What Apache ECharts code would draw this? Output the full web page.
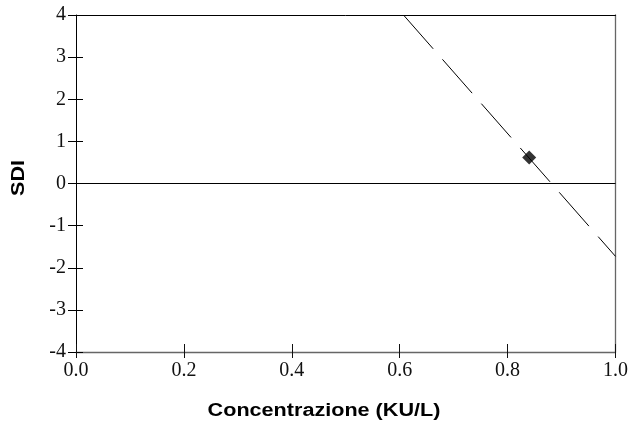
<!DOCTYPE html>
<html><head><meta charset="utf-8">
<script src="https://cdn.jsdelivr.net/npm/echarts@6/dist/echarts.min.js"></script>
<style>html,body{margin:0;padding:0;background:#fff}#c{width:631px;height:424px}</style>
</head><body><div id="c"></div>
<script>
const xTicks = [0.0, 0.2, 0.4, 0.6, 0.8, 1.0];
const yTicks = [-4, -3, -2, -1, 0, 1, 2, 3, 4];
const fitX = [0.607, 1.0];
const fitY = [4, -1.73];
const pointX = [0.84];
const pointY = [0.62];
const zeroX = [0, 1];
const zeroY = [0, 0];

const chart = echarts.init(document.getElementById('c'), null, {renderer: 'canvas'});
const serif = '"Liberation Serif", "Times New Roman", serif';
const sans = '"Liberation Sans", Arial, sans-serif';
const zip = (a, b) => a.map((v, i) => [v, b[i]]);

chart.setOption({
  animation: false,
  grid: {left: 76, top: 15, right: 15, bottom: 72, containLabel: false},
  xAxis: [{
    type: 'value', min: xTicks[0], max: xTicks[xTicks.length - 1], interval: 0.2, position: 'bottom',
    axisLine: {show: true, onZero: false, lineStyle: {color: '#666', width: 1.3}},
    axisTick: {show: true, inside: true, length: 8, lineStyle: {color: '#111'}},
    axisLabel: {fontFamily: serif, fontSize: 20, color: '#111', margin: 9,
      formatter: v => v.toFixed(1)},
    splitLine: {show: false}
  }, {
    type: 'value', min: 0, max: 1, position: 'top',
    axisLine: {show: true, onZero: false, lineStyle: {color: '#000', width: 1}},
    axisTick: {show: false}, axisLabel: {show: false}, splitLine: {show: false}
  }, {
    type: 'value', min: xTicks[0], max: xTicks[xTicks.length - 1], interval: 0.2, position: 'bottom', offset: 0,
    axisLine: {show: false, onZero: false},
    axisTick: {show: true, inside: false, length: 6, lineStyle: {color: '#111'}},
    axisLabel: {show: false}, splitLine: {show: false}
  }],
  yAxis: [{
    type: 'value', min: yTicks[0], max: yTicks[yTicks.length - 1], interval: 1, position: 'left',
    axisLine: {show: true, onZero: false, lineStyle: {color: '#000', width: 1}},
    axisTick: {show: true, inside: false, length: 8, lineStyle: {color: '#000'}},
    axisLabel: {fontFamily: serif, fontSize: 20, color: '#111', margin: 10},
    splitLine: {show: false}
  }, {
    type: 'value', min: -4, max: 4, interval: 1, position: 'left', offset: 0,
    axisLine: {show: false, onZero: false},
    axisTick: {show: true, inside: true, length: 7, lineStyle: {color: '#000'}},
    axisLabel: {show: false}, splitLine: {show: false}
  }, {
    type: 'value', min: -4, max: 4, position: 'right',
    axisLine: {show: true, onZero: false, lineStyle: {color: '#666', width: 1.3}},
    axisTick: {show: false}, axisLabel: {show: false}, splitLine: {show: false}
  }],
  graphic: [{
    type: 'text', x: 324, y: 411, scaleX: 1.2,
    style: {text: 'Concentrazione (KU/L)', font: 'bold 18px ' + sans, fill: '#000', align: 'center', verticalAlign: 'middle'}
  }, {
    type: 'text', x: 19, y: 178, rotation: Math.PI / 2, scaleX: 1.2,
    style: {text: 'SDI', font: 'bold 18px ' + sans, fill: '#000', align: 'center', verticalAlign: 'middle'}
  }],
  series: [{
    type: 'line', data: zip(zeroX, zeroY), symbol: 'none', silent: true,
    lineStyle: {color: '#000', width: 1.2}
  }, {
    type: 'line', data: zip(fitX, fitY), symbol: 'none', silent: true,
    lineStyle: {color: '#000', width: 1, type: [45, 14]}
  }, {
    type: 'scatter', data: zip(pointX, pointY), symbol: 'diamond', symbolSize: [14, 14],
    itemStyle: {color: '#000'}
  }]
});
</script></body></html>
